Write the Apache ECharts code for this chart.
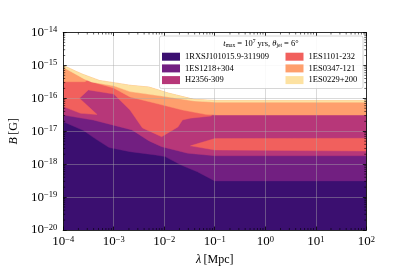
<!DOCTYPE html>
<html><head><meta charset="utf-8">
<script src="https://cdn.jsdelivr.net/npm/echarts@6/dist/echarts.min.js"></script>
<style>html,body{margin:0;padding:0;background:#fff}#c{width:407px;height:271px}</style>
</head><body><div id="c"></div>
<script>
// ---------- data (lambda in Mpc, B in Gauss) ----------
const sourceNames = ['1RXSJ101015.9-311909','1ES1218+304','H2356-309','1ES1101-232','1ES0347-121','1ES0229+200'];
const xTicks = [1e-4,1e-3,1e-2,1e-1,1e0,1e1,1e2];
const yTicks = [1e-20,1e-19,1e-18,1e-17,1e-16,1e-15,1e-14];

// 1ES0229+200 upper edge
const lamA = [1e-4,2.35e-4,5.2e-4,1.0e-3,2.1e-3,5.0e-3,1.2e-2,3.9e-2,0.107,100];
const bA   = [1.0e-15,5.5e-16,3.5e-16,3.0e-16,2.5e-16,2.2e-16,1.45e-16,9.3e-17,8.6e-17,8.6e-17];
// 1ES0229+200 lower edge
const lamB = [1e-4,2.6e-4,3.6e-4,1.0e-3,2.1e-3,8.9e-3,3.9e-2,0.107,100];
const bB   = [8.8e-16,3.9e-16,3.15e-16,2.4e-16,1.6e-16,1.17e-16,8.3e-17,7.6e-17,7.6e-17];
// 1ES0347-121 lower edge
const lamC = [1e-4,2.7e-4,3.1e-4,3.6e-4,1.0e-3,2.1e-3,7.8e-3,2.3e-2,6.9e-2,0.107,100];
const bC   = [3.2e-16,3.2e-16,3.7e-16,3.2e-16,2.06e-16,1.1e-16,6.7e-17,4.4e-17,3.2e-17,3.1e-17,3.1e-17];
// 1ES1101-232 low-lambda region: upper and lower edges
const lamD1 = [1e-4,2.6e-4,3.6e-4,1.0e-3,2.1e-3,8.9e-3,3.9e-2,8.6e-2];
const bD1   = [8.8e-16,3.9e-16,3.15e-16,2.4e-16,1.6e-16,1.17e-16,8.3e-17,7.7e-17];
const lamD2 = [1e-4,2.2e-4,4.7e-4,2.1e-4,3.15e-4,1.0e-3,2.1e-3,3.7e-3,8.9e-3,1.87e-2,2.3e-2,3.3e-2,8.6e-2];
const bD2   = [5.6e-17,3.5e-17,3.2e-17,1.0e-16,1.8e-16,1.35e-16,4.4e-17,1.26e-17,6.8e-18,1.35e-17,2.2e-17,2.5e-17,2.9e-17];
// 1ES1101-232 high-lambda band
const lamE = [3.3e-2,0.1,100];
const bE1  = [3.6e-18,6.0e-18,6.1e-18];
const bE2  = [3.6e-18,2.7e-18,2.5e-18];
// H2356-309 lower edge
const lamF = [1e-4,3.9e-4,2.3e-3,5.0e-3,8.9e-3,2.9e-2,0.1,100];
const bF   = [3.1e-17,2.2e-17,1.1e-17,5.1e-18,3.4e-18,2.15e-18,1.8e-18,1.8e-18];
// 1ES1218+304 lower edge
const lamG = [1e-4,2.53e-4,4.2e-4,8.1e-4,2.1e-3,6.7e-3,1.04e-2,2.15e-2,4.5e-2,0.1,100];
const bG   = [1.95e-17,1.05e-17,6.1e-18,3.2e-18,2.4e-18,1.9e-18,1.7e-18,9.4e-19,5.9e-19,3.1e-19,3.1e-19];
// 1RXS lower edge (axis floor)
const lamH = [1e-4,100];
const bH   = [1e-20,1e-20];

const minorMant = [2,3,4,5,6,7,8,9];
const xDecades = [-4,-3,-2,-1,0,1];
const yDecades = [-20,-19,-18,-17,-16,-15];

// ---------- styling ----------
const colors = ['#3b0f70','#721f81','#b73779','#f1605d','#fe9f6d','#fde2a2'];
const serif = 'Liberation Serif';

function pts(l,b){return l.map((v,i)=>[v,b[i]]);}
function band(ul,ub,ll,lb){return pts(ul,ub).concat(pts(ll,lb).reverse());}

const regions = [
  [band(lamF,bF,lamH,bH)],                 // 1RXS
  [band(lamC,bC,lamG,bG)],                 // 1ES1218
  [band(lamB,bB,lamF,bF)],                 // H2356
  [band(lamD1,bD1,lamD2,bD2), band(lamE,bE1,lamE,bE2)], // 1ES1101
  [band(lamA,bA,lamC,bC)],                 // 1ES0347
  [band(lamA,bA,lamB,bB)]                  // 1ES0229
];

const series = regions.map((rings,si)=>({
  name: sourceNames[si], type:'custom', coordinateSystem:'cartesian2d', clip:true,
  z: si+1, itemStyle:{color:colors[si]},
  encode:{x:0,y:1},
  data: rings.map((r,i)=>[r[0][0],r[0][1],i]),
  renderItem:(params,api)=>{
    const ring = rings[api.value(2)];
    return {type:'polygon', shape:{points:ring.map(p=>api.coord(p))},
      style:{fill:colors[si], stroke:colors[si], lineWidth:0.4}};
  }
}));

const minorData = [];
xDecades.forEach(e=>minorMant.forEach(m=>minorData.push([m*Math.pow(10,e),1e-20,0])));
yDecades.forEach(e=>minorMant.forEach(m=>minorData.push([1e-4,m*Math.pow(10,e),1])));
series.push({
  type:'custom', coordinateSystem:'cartesian2d', z:11, silent:true, encode:{x:0,y:1},
  data:minorData,
  renderItem:(params,api)=>{
    const cs = params.coordSys; const p = api.coord([api.value(0),api.value(1)]);
    const st = {stroke:'#000', lineWidth:0.6};
    if(api.value(2)===0){
      return {type:'group',children:[
        {type:'line',shape:{x1:p[0],y1:cs.y+cs.height,x2:p[0],y2:cs.y+cs.height-2},style:st},
        {type:'line',shape:{x1:p[0],y1:cs.y,x2:p[0],y2:cs.y+2},style:st}]};
    }
    return {type:'group',children:[
      {type:'line',shape:{x1:cs.x,y1:p[1],x2:cs.x+2,y2:p[1]},style:st},
      {type:'line',shape:{x1:cs.x+cs.width,y1:p[1],x2:cs.x+cs.width-2,y2:p[1]},style:st}]};
  }
});

function powLabel(v){
  const e = Math.round(Math.log10(v));
  return '{b|10}{s|' + (e<0?'\u2212':'') + Math.abs(e) + '}';
}
const labRich = {b:{fontFamily:serif,fontSize:13,lineHeight:14,color:'#000'},
                 s:{fontFamily:serif,fontSize:8.5,lineHeight:7,verticalAlign:'top',color:'#000'}};
const axLine = {show:true,lineStyle:{color:'#000',width:0.8}};
const tick = {show:true,inside:true,length:3.5,lineStyle:{color:'#000',width:0.8}};
const split = {show:true,lineStyle:{color:'rgba(170,170,170,0.55)',width:0.8}};

const option = {
  animation:false,
  grid:{left:50.5,right:40.7,top:32.5,bottom:41,containLabel:false},
  xAxis:[
    {type:'log',logBase:10,min:1e-4,max:1e2,interval:1,position:'bottom',z:10,
     axisLine:axLine,axisTick:tick,splitLine:split,
     axisLabel:{formatter:powLabel,rich:labRich,margin:5},
     name:'{i|λ}\u2009[Mpc]',nameLocation:'middle',nameGap:19,
     nameTextStyle:{fontFamily:serif,fontSize:12,color:'#000',rich:{i:{fontFamily:serif,fontStyle:'italic',fontSize:12,color:'#000'}}}},
    {type:'log',logBase:10,min:1e-4,max:1e2,interval:1,position:'top',z:10,
     axisLine:axLine,axisTick:tick,splitLine:{show:false},axisLabel:{show:false}}
  ],
  yAxis:[
    {type:'log',logBase:10,min:1e-20,max:1e-14,interval:1,position:'left',z:10,
     axisLine:axLine,axisTick:tick,splitLine:split,
     axisLabel:{formatter:powLabel,rich:labRich,margin:6},
     name:'{i|B}\u2009[G]',nameLocation:'middle',nameGap:34,nameRotate:90,
     nameTextStyle:{fontFamily:serif,fontSize:12,color:'#000',rich:{i:{fontFamily:serif,fontStyle:'italic',fontSize:12,color:'#000'}}}},
    {type:'log',logBase:10,min:1e-20,max:1e-14,interval:1,position:'right',z:10,
     axisLine:axLine,axisTick:tick,splitLine:{show:false},axisLabel:{show:false}}
  ],
  legend:[
    {data:sourceNames.slice(0,3),orient:'vertical',left:162,top:51.7,padding:0,itemGap:1.7,
     itemWidth:18,itemHeight:8,icon:'rect',selectedMode:false,z:13,
     textStyle:{fontFamily:serif,fontSize:8.5,lineHeight:10,color:'#000'}},
    {data:sourceNames.slice(3),orient:'vertical',left:285.5,top:51.7,padding:0,itemGap:1.7,
     itemWidth:18,itemHeight:8,icon:'rect',selectedMode:false,z:13,
     textStyle:{fontFamily:serif,fontSize:8.5,lineHeight:10,color:'#000'}}
  ],
  graphic:[
    {type:'rect',z:12,shape:{x:159.5,y:36,width:203.5,height:52.5,r:2},
     style:{fill:'rgba(255,255,255,0.85)',stroke:'#cccccc',lineWidth:0.8}},
    {type:'text',z:14,x:261,y:43.5,style:{
      text:'{i|t}{sb|max}{n| = 10}{sp|7}{n| yrs, }{i|θ}{sb|jet}{n| = 6°}',
      align:'center',verticalAlign:'middle',
      rich:{i:{fontFamily:serif,fontStyle:'italic',fontSize:8.5,lineHeight:10,fill:'#000'},
            n:{fontFamily:serif,fontSize:8.5,lineHeight:10,fill:'#000'},
            sb:{fontFamily:serif,fontSize:5.5,lineHeight:5,verticalAlign:'bottom',fill:'#000'},
            sp:{fontFamily:serif,fontSize:5.5,lineHeight:5,verticalAlign:'top',fill:'#000'}}}}
  ],
  series:series
};
const chart = echarts.init(document.getElementById('c'),null,{renderer:'canvas'});
chart.setOption(option);
</script></body></html>
